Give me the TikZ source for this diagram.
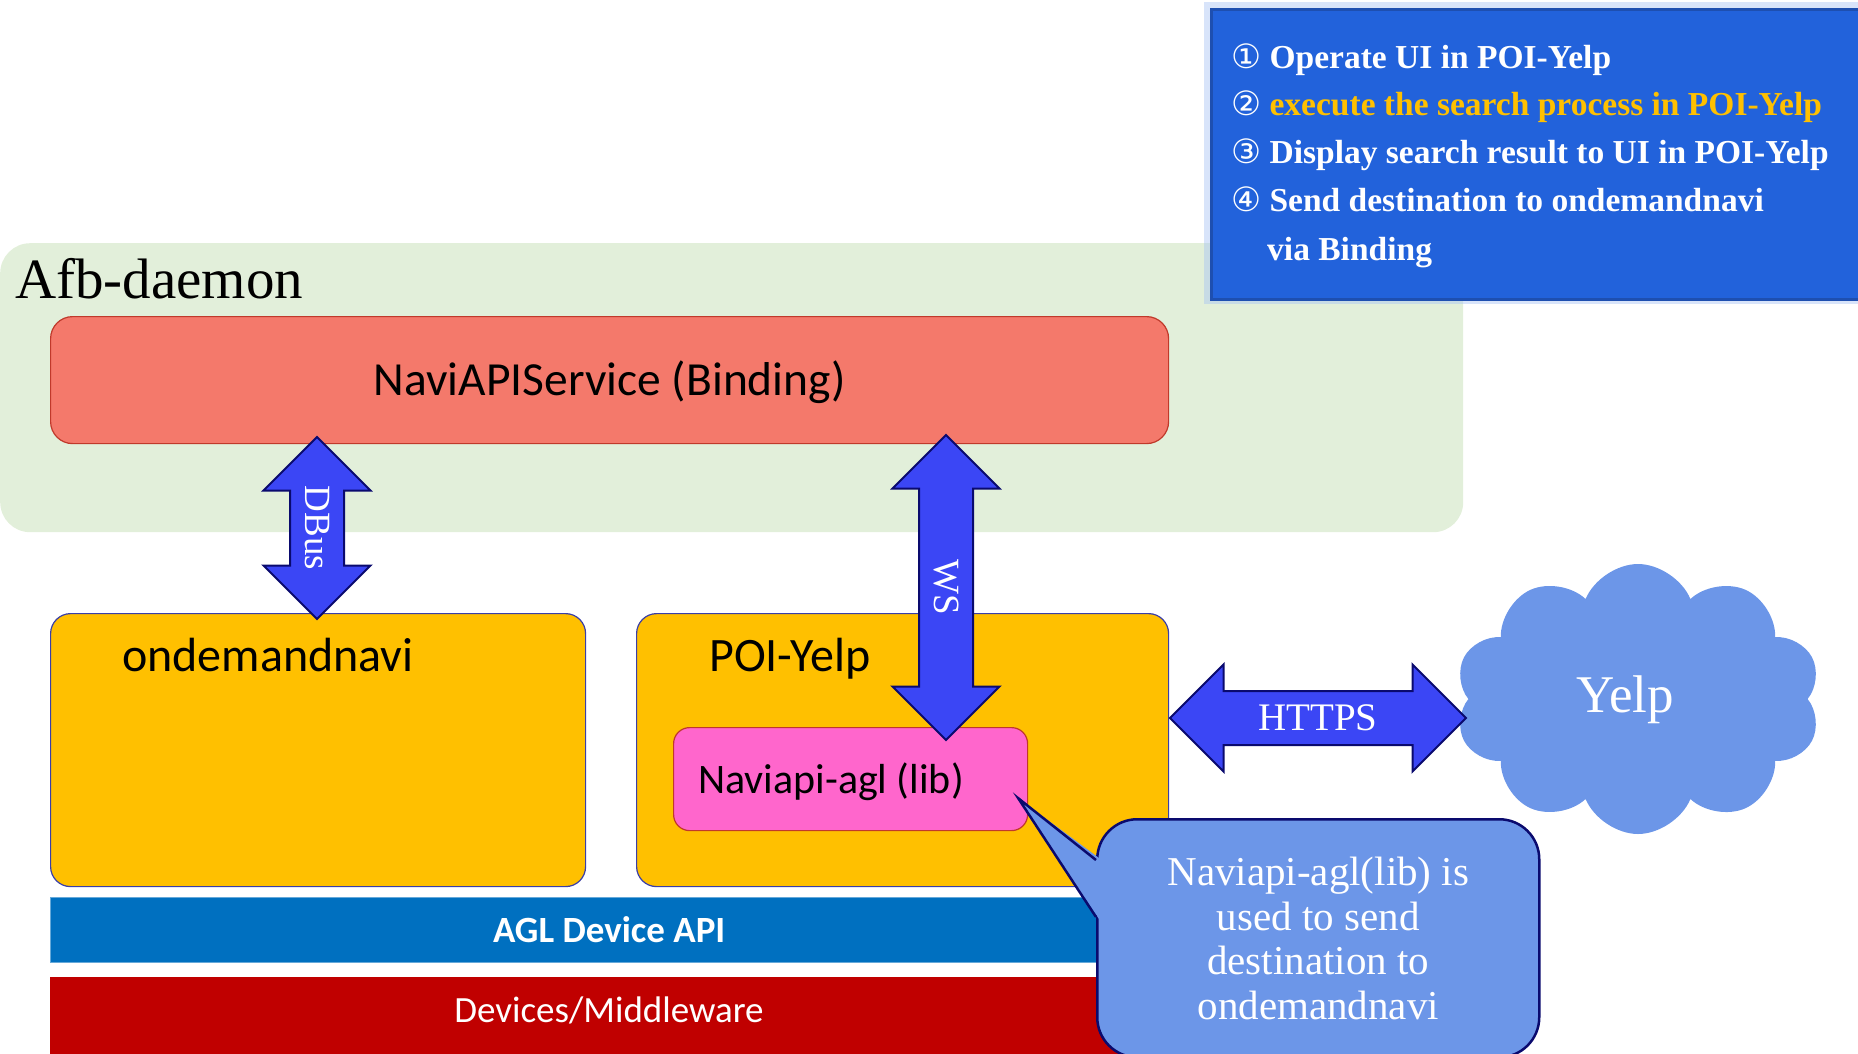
\documentclass[tikz,border=0pt]{standalone}
\usepackage{fontspec}
\setmainfont{Liberation Serif}
\newfontfamily\sansfam{Carlito}
\newfontfamily\circfont{DejaVu Sans}
\usetikzlibrary{shapes,calc}
\definecolor{afbgreen}{HTML}{E2EFDA}
\definecolor{svcred}{HTML}{F4796B}
\definecolor{svcline}{HTML}{C0392B}
\definecolor{appyellow}{HTML}{FFC000}
\definecolor{appline}{HTML}{3A3FA8}
\definecolor{libpink}{HTML}{FF66CC}
\definecolor{libline}{HTML}{C0392B}
\definecolor{aglblue}{HTML}{0070C0}
\definecolor{devred}{HTML}{C00000}
\definecolor{arrblue}{HTML}{3B46F5}
\definecolor{arrline}{HTML}{0A0A6E}
\definecolor{callblue}{HTML}{6C96E8}
\definecolor{callline}{HTML}{0A0A6E}
\definecolor{legblue}{HTML}{2262DB}
\definecolor{legline}{HTML}{1E4FB0}
\definecolor{glowblue}{HTML}{A8C4F4}
\definecolor{legorange}{HTML}{FFC000}
\begin{document}
\begin{tikzpicture}[x=1pt,y=-1pt]
	\tikzstyle{grp} = [fill=afbgreen, rounded corners=30pt, anchor=north west, inner sep=0pt]
	\tikzstyle{svc} = [draw=svcline, fill=svcred, line width=1.2pt, rounded corners=22pt, anchor=north west, inner sep=0pt]
	\tikzstyle{app} = [draw=appline, fill=appyellow, line width=1.2pt, rounded corners=20pt, anchor=north west, inner sep=0pt]
	\tikzstyle{lib} = [draw=libline, fill=libpink, line width=1.2pt, rounded corners=16pt, anchor=north west, inner sep=0pt]
	\tikzstyle{layer} = [anchor=north west, inner sep=0pt, text=white]
	\tikzstyle{arr} = [double arrow, draw=arrline, fill=arrblue, line width=2pt, inner xsep=0pt, inner ysep=26pt, double arrow head extend=26.5pt, double arrow tip angle=90]
	\tikzstyle{arrtxt} = [inner sep=0pt, text=white, font=\fontsize{37}{40}\selectfont]
	\tikzstyle{sans} = [inner sep=0pt, font=\sansfam\fontsize{48}{52}\selectfont]
	\tikzstyle{leg} = [inner sep=0pt, anchor=base west, text=white, font=\bfseries\fontsize{33.5}{36}\selectfont]
	\useasboundingbox (0,0) rectangle (1858,1053);
	\node[grp, minimum width=1463, minimum height=289] (afb) at (0,243) {};
	\node[inner sep=0pt, anchor=base west, font=\fontsize{57}{60}\selectfont] (afblbl) at (15,298) {Afb-daemon};
	\draw[glowblue, line width=12pt, opacity=0.45] (1210,8) rectangle (1880,298);
	\node[fill=legblue, draw=legline, line width=2.5pt, minimum width=670, minimum height=290, anchor=north west, inner sep=0pt] (legend) at (1210,8) {};
	\node[leg] (leg1) at (1231,68) {{\circfont\mdseries ①} Operate UI in POI-Yelp};
	\node[leg] (leg2) at (1231,115) {{\circfont\mdseries ②} \textcolor{legorange}{execute the search process in POI-Yelp}};
	\node[leg] (leg3) at (1231,163) {{\circfont\mdseries ③} Display search result to UI in POI-Yelp};
	\node[leg] (leg4) at (1231,211) {{\circfont\mdseries ④} Send destination to ondemandnavi};
	\node[leg] (leg5) at (1267,260) {via Binding};
	\node[svc, minimum width=1118, minimum height=127, text height=30pt, text depth=0pt, font=\sansfam\fontsize{47.5}{52}\selectfont] (navi) at (50,316) {NaviAPIService (Binding)};
	\node[app, minimum width=535, minimum height=273] (odn) at (50,613) {};
	\node[sans, anchor=base west] (odnlbl) at (122,671) {ondemandnavi};
	\node[app, minimum width=532, minimum height=273] (poi) at (636,613) {};
	\node[sans, anchor=base west] (poilbl) at (709,671) {POI-Yelp};
	\node[lib, minimum width=354, minimum height=103] (naviapi) at (673,727) {};
	\node[sans, anchor=base west, font=\sansfam\fontsize{42}{46}\selectfont] (naviapilbl) at (698,793) {Naviapi-agl (lib)};
	\node[layer, fill=aglblue, draw=aglblue!60!white, minimum width=1118, minimum height=65, font=\sansfam\bfseries\fontsize{37}{40}\selectfont] (agl) at (50,897) {AGL Device API};
	\node[layer, fill=devred, minimum width=1118, minimum height=100] (dev) at (50,977) {};
	\node[sans, text=white, anchor=base, font=\sansfam\fontsize{37}{40}\selectfont] (devlbl) at (609,1022) {Devices/Middleware};
	\node[arr, rotate=-90, minimum height=182] (dbus) at (317,528) {};
	\node[arrtxt, rotate=-90] (dbuslbl) at (dbus) {DBus};
	\node[arr, rotate=-90, minimum height=305] (ws) at (946,587.5) {};
	\node[arrtxt, rotate=-90] (wslbl) at (ws) {WS};
	\node[cloud, fill=callblue, cloud puffs=10, cloud puff arc=135, aspect=1.36, minimum width=366, minimum height=270, inner sep=0pt] (yelp) at (1638,699) {};
	\node[inner sep=0pt, anchor=base, text=white, font=\fontsize{53}{58}\selectfont] (yelplbl) at (1625,712) {Yelp};
	\node[arr, minimum height=296] (https) at (1318,718) {};
	\node[arrtxt, font=\fontsize{39}{42}\selectfont] (httpslbl) at (https) {HTTPS};
	\node[draw=callline, fill=callblue, line width=2.5pt, rounded corners=40pt, anchor=north west, minimum width=442, minimum height=238, align=center, text=white, font=\fontsize{41}{44.5}\selectfont, inner sep=0pt] (callout) at (1096,818) {Naviapi-agl(lib) is\\used to send\\destination to\\ondemandnavi};
	\coordinate (tip) at ($(naviapi.south east)+(-10,-33)$);
	\fill[callblue] (tip) -- ($(callout.north west)+(3,40)$) -- ($(callout.north west)+(3,101)$) -- cycle;
	\draw[callline, line width=2.5pt] ($(callout.north west)+(0,42)$) -- (tip) -- ($(callout.north west)+(0,99)$);
\end{tikzpicture}
\end{document}
